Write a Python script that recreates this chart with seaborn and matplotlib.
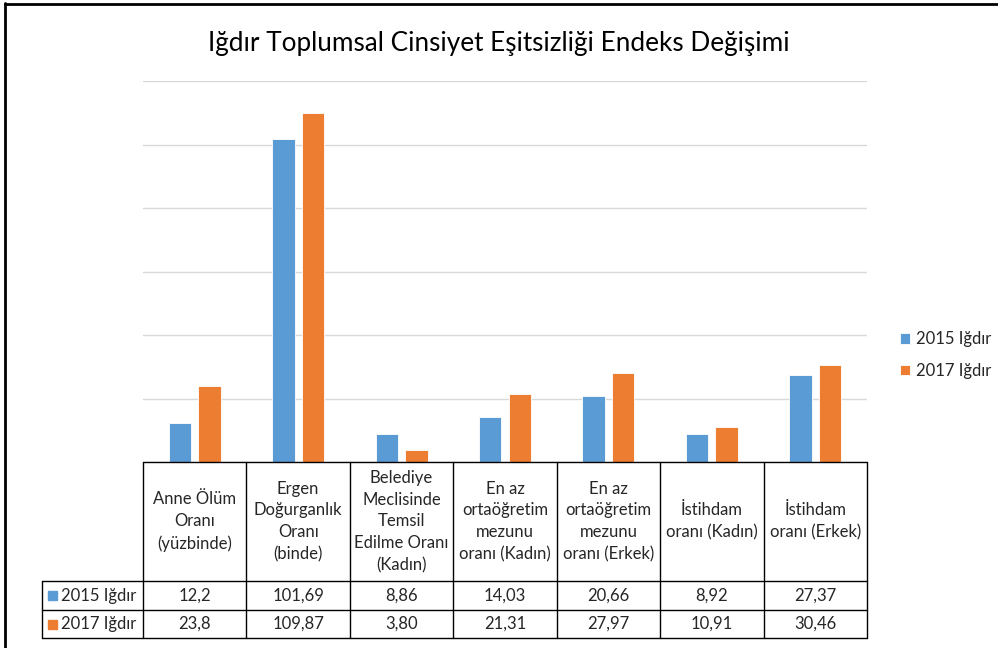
import matplotlib
matplotlib.use('Agg')
import matplotlib.pyplot as plt
from matplotlib.patches import Rectangle
import seaborn as sns
import pandas as pd

# veri
categories = ['Anne Ölüm\nOranı\n(yüzbinde)',
              'Ergen\nDoğurganlık\nOranı\n(binde)',
              'Belediye\nMeclisinde\nTemsil\nEdilme Oranı\n(Kadın)',
              'En az\nortaöğretim\nmezunu\noranı (Kadın)',
              'En az\nortaöğretim\nmezunu\noranı (Erkek)',
              'İstihdam\noranı (Kadın)',
              'İstihdam\noranı (Erkek)']
series = ['2015 Iğdır', '2017 Iğdır']
values_2015 = [12.2, 101.69, 8.86, 14.03, 20.66, 8.92, 27.37]
values_2017 = [23.8, 109.87, 3.80, 21.31, 27.97, 10.91, 30.46]
labels_2015 = ['12,2', '101,69', '8,86', '14,03', '20,66', '8,92', '27,37']
labels_2017 = ['23,8', '109,87', '3,80', '21,31', '27,97', '10,91', '30,46']
colors = ['#5B9BD5', '#ED7D31']

sns.set_theme(style='white')
plt.rcParams['font.family'] = ['Lato', 'DejaVu Sans']

W, H = 998, 648
fig = plt.figure(figsize=(W / 100, H / 100), dpi=100)

# grafik alani (piksel)
left, right, top, base = 143, 867, 81, 462
ax = fig.add_axes([left / W, 1 - base / H, (right - left) / W, (base - top) / H])

df = pd.DataFrame({
    'kategori': list(range(len(categories))) * 2,
    'deger': values_2015 + values_2017,
    'seri': [series[0]] * len(categories) + [series[1]] * len(categories),
})
sns.barplot(data=df, x='kategori', y='deger', hue='seri', palette=colors,
            saturation=1, width=0.572, gap=0.238, ax=ax,
            edgecolor='white', linewidth=0.6, legend=True)

ax.set_xlim(-0.5, len(categories) - 0.5)
ax.set_ylim(0, 120)
ax.set_yticks(range(0, 121, 20))
ax.yaxis.grid(True, color='#D9D9D9', linewidth=1)
ax.set_axisbelow(True)
ax.tick_params(left=False, bottom=False, labelleft=False, labelbottom=False)
for s in ax.spines.values():
    s.set_visible(False)
ax.set_xlabel('')
ax.set_ylabel('')

ax.legend(loc='center left', bbox_to_anchor=(885 / W, 1 - 355 / H),
          bbox_transform=fig.transFigure, frameon=False, fontsize=12,
          handlelength=0.6, handleheight=0.6, handletextpad=0.35,
          labelspacing=0.95)

fig.text(0.5, 1 - 43 / H, 'Iğdır Toplumsal Cinsiyet Eşitsizliği Endeks Değişimi',
         ha='center', va='center', fontsize=18.8, color='#000000')

# veri tablosu
ov = fig.add_axes([0, 0, 1, 1])
ov.set_xlim(0, W)
ov.set_ylim(H, 0)
ov.axis('off')
ov.patch.set_alpha(0)

colw = (right - left) / len(categories)
hdr_bot, r1_bot, r2_bot = 581, 610, 638
lab_left = 42
lc = '#000000'
lw = 1.0
ov.plot([left, right], [base, base], color=lc, lw=lw)
ov.plot([lab_left, right], [hdr_bot, hdr_bot], color=lc, lw=lw)
ov.plot([lab_left, right], [r1_bot, r1_bot], color=lc, lw=lw)
ov.plot([lab_left, right], [r2_bot, r2_bot], color=lc, lw=lw)
ov.plot([lab_left, lab_left], [hdr_bot, r2_bot], color=lc, lw=lw)
for i in range(len(categories) + 1):
    x = left + i * colw
    ov.plot([x, x], [base, r2_bot], color=lc, lw=lw)

for i, cat in enumerate(categories):
    cx = left + (i + 0.5) * colw
    ov.text(cx, (base + hdr_bot) / 2, cat, ha='center', va='center',
            fontsize=12, linespacing=1.45)
    ov.text(cx, (hdr_bot + r1_bot) / 2, labels_2015[i], ha='center', va='center', fontsize=12)
    ov.text(cx, (r1_bot + r2_bot) / 2, labels_2017[i], ha='center', va='center', fontsize=12)

for j, (name, c) in enumerate(zip(series, colors)):
    yc = [(hdr_bot + r1_bot) / 2, (r1_bot + r2_bot) / 2][j]
    ov.add_patch(Rectangle((48, yc - 4.5), 9, 9, color=c))
    ov.text(61, yc, name, ha='left', va='center', fontsize=12)

# cerceve
ov.plot([5, 5], [3, H], color='black', lw=2)
ov.plot([5, W], [3.5, 3.5], color='black', lw=2)

fig.savefig('out.png', dpi=100)
